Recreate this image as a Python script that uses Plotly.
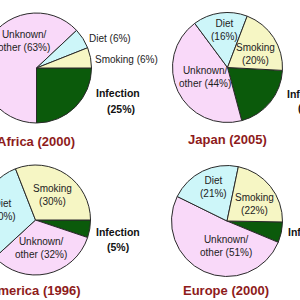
import plotly.graph_objects as go

# ---- data ----
regions = ["Africa (2000)", "Japan (2005)", "America (1996)", "Europe (2000)"]
categories = ["Infection", "Unknown/other", "Diet", "Smoking"]
africa = [25, 63, 6, 6]
japan = [20, 44, 16, 20]
america = [5, 32, 30, 30]
europe = [6, 51, 21, 22]
series = [africa, japan, america, europe]

# ---- layout constants (screen px of the 300x300 view) ----
W, H, SHIFT = 322, 300, 22
colors = ["#0b5a0b", "#f9d9f9", "#cdf6f9", "#f6f6c4"]
centers = [(36.5, 68), (227.5, 67.5), (35.5, 220), (227, 221)]
radii = [55, 55, 55, 55.5]
rotations = [90, 93, 90, 91]
title_pos = [(36, 141), (227, 139), (34, 290), (226, 290)]
# label block centres per region, order = categories (infection gets 2 lines)
label_pos = [
    [((118, 93), (121, 109)), (24, 40.5), (109.5, 38), (126, 60)],
    [((309, 94), (312, 108)), (205, 77), (224, 29.5), (255, 54)],
    [((118, 232), (118, 247)), (41, 247.5), (3, 209.5), (52.5, 195)],
    [((310, 232), (312, 247)), (226, 245.5), (213.5, 187), (254, 203.5)],
]
one_line = [[False, False, True, True], [False, False, False, False],
            [False, False, False, False], [False, False, False, False]]


def px(x):
    return (x + SHIFT) / W


def py(y):
    return 1 - y / H


fig = go.Figure()
annotations = []
font_fam = "Liberation Sans, Arial, sans-serif"
for i, vals in enumerate(series):
    cx, cy = centers[i]
    r = radii[i]
    fig.add_trace(go.Pie(
        values=vals, labels=categories, sort=False, direction="clockwise",
        rotation=rotations[i], textinfo="none", hoverinfo="skip",
        marker=dict(colors=colors, line=dict(color="#2a2a2a", width=1)),
        domain=dict(x=[px(cx - r), px(cx + r)], y=[py(cy + r), py(cy - r)]),
        showlegend=False,
    ))
    for j, (cat, v) in enumerate(zip(categories, vals)):
        pos = label_pos[i][j]
        if j == 0:
            for (lx, ly), t in zip(pos, [cat, f"({v}%)"]):
                annotations.append(dict(
                    x=px(lx), y=py(ly), xref="paper", yref="paper", text=f"<b>{t}</b>",
                    showarrow=False, xanchor="center", yanchor="middle",
                    font=dict(family=font_fam, size=10.5, color="#111")))
            continue
        if cat == "Unknown/other":
            text = f"Unknown/<br>other ({v}%)"
        elif one_line[i][j]:
            text = f"{cat} ({v}%)"
        else:
            text = f"{cat}<br>({v}%)"
        lx, ly = pos
        annotations.append(dict(
            x=px(lx), y=py(ly), xref="paper", yref="paper", text=text,
            showarrow=False, xanchor="center", yanchor="middle",
            font=dict(family=font_fam, size=10, color="#222")))
    tx, ty = title_pos[i]
    annotations.append(dict(
        x=px(tx), y=py(ty), xref="paper", yref="paper", text=f"<b>{regions[i]}</b>",
        showarrow=False, xanchor="center", yanchor="middle",
        font=dict(family=font_fam, size=13, color="#8e1b1b")))

fig.update_layout(
    width=W, height=H, margin=dict(l=0, r=0, t=0, b=0),
    paper_bgcolor="white", plot_bgcolor="white", annotations=annotations,
)

post = ("var d=document.getElementById('{plot_id}');"
        "d.style.marginLeft='-%dpx';"
        "document.body.style.margin='0';document.body.style.overflow='hidden';" % SHIFT)
fig.write_html("out.html", post_script=post, config={"displayModeBar": False})
